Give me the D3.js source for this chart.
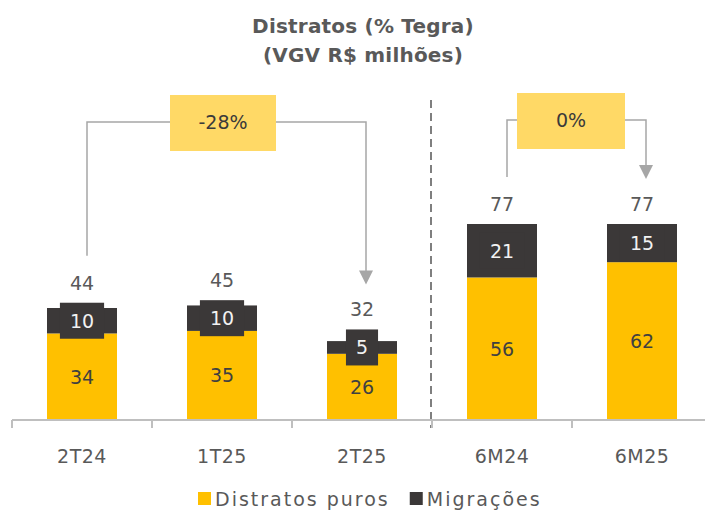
<!DOCTYPE html>
<html>
<head>
<meta charset="utf-8">
<script src="https://cdn.jsdelivr.net/npm/d3@7"></script>
<style>
  body { margin: 0; background: #fff; }
  svg text { font-family: "DejaVu Sans", sans-serif; }
</style>
</head>
<body>
<div class="chart"></div>
<script>
// data
var categories = ['2T24', '1T25', '2T25', '6M24', '6M25'];
var puros = [34, 35, 26, 56, 62];
var migracoes = [10, 10, 5, 21, 15];
var totals = [44, 45, 32, 77, 77];
var seriesNames = ['Distratos puros', 'Migrações'];
var annotations = [
  {from: '2T24', to: '2T25', text: '-28%'},
  {from: '6M24', to: '6M25', text: '0%'}
];

var svgWidth = 705;
var svgHeight = 511;
var yellow = '#FFC000';
var dark = '#3B3838';
var lineGray = '#A6A6A6';
var textGray = '#595959';
var fontSize = 19;

var svg = d3.select(".chart")
  .append("svg")
  .attr("width", svgWidth)
  .attr("height", svgHeight);

var x = d3.scaleBand()
  .domain(categories)
  .range([12, 712])
  .padding(0);

var y = d3.scaleLinear()
  .domain([0, 77])
  .range([420, 224]);

var barW = x.bandwidth() * 0.5;
function cx(c) { return x(c) + x.bandwidth() / 2; }

// title
var title = svg.append("text")
  .attr("x", 363)
  .attr("text-anchor", "middle")
  .attr("font-weight", "bold")
  .attr("font-size", 20)
  .attr("letter-spacing", 0.2)
  .attr("fill", textGray);
title.append("tspan").attr("x", 363).attr("y", 33).text("Distratos (% Tegra)");
title.append("tspan").attr("x", 363).attr("y", 62).text("(VGV R$ milhões)");

// dashed divider
svg.append("line")
  .attr("x1", x('6M24') - 1).attr("x2", x('6M24') - 1)
  .attr("y1", 100).attr("y2", 428)
  .attr("stroke", "#7F7F7F")
  .attr("stroke-width", 2)
  .attr("stroke-dasharray", "8,5");

// stacked data
var rows = categories.map(function(c, i) {
  return {cat: c, puros: puros[i], migracoes: migracoes[i], total: totals[i]};
});
var stack = d3.stack().keys(['puros', 'migracoes'])(rows);
var colors = {puros: yellow, migracoes: dark};

stack.forEach(function(layer) {
  svg.append("g").selectAll("rect")
    .data(layer)
    .join("rect")
    .attr("x", d => cx(d.data.cat) - barW / 2)
    .attr("width", barW)
    .attr("y", d => y(d[1]))
    .attr("height", d => y(d[0]) - y(d[1]))
    .attr("fill", colors[layer.key]);
});

// labels inside yellow
svg.append("g").selectAll("text")
  .data(stack[0])
  .join("text")
  .attr("x", d => cx(d.data.cat))
  .attr("y", d => (y(d[0]) + y(d[1])) / 2 + 7)
  .attr("text-anchor", "middle")
  .attr("font-size", fontSize)
  .attr("fill", "#404040")
  .text(d => d.data.puros);

// labels for dark segment, with a box behind
var boxTops = {};
var darkLabels = svg.append("g");
stack[1].forEach(function(d) {
  var mid = (y(d[0]) + y(d[1])) / 2;
  var t = darkLabels.append("text")
    .attr("x", cx(d.data.cat))
    .attr("y", mid + 7)
    .attr("text-anchor", "middle")
    .attr("font-size", fontSize)
    .attr("fill", "#F2F2F2")
    .text(d.data.migracoes);
  var w = t.node().getComputedTextLength() + 20;
  darkLabels.insert("rect", "text")
    .attr("x", cx(d.data.cat) - w / 2)
    .attr("y", mid - 18)
    .attr("width", w)
    .attr("height", 36)
    .attr("fill", dark);
  boxTops[d.data.cat] = Math.min(mid - 18, y(d[1]));
});

// totals
var totalY = {};
rows.forEach(function(r) {
  totalY[r.cat] = boxTops[r.cat] - 13;
});
svg.append("g").selectAll("text")
  .data(rows)
  .join("text")
  .attr("x", d => cx(d.cat))
  .attr("y", d => totalY[d.cat])
  .attr("text-anchor", "middle")
  .attr("font-size", fontSize)
  .attr("fill", textGray)
  .text(d => d.total);

// x axis: line, ticks at band edges, labels at centres
var axisG = svg.append("g").attr("transform", "translate(0,420)");
axisG.append("line")
  .attr("x1", 12).attr("x2", 705)
  .attr("y1", 0).attr("y2", 0)
  .attr("stroke", "#BFBFBF").attr("stroke-width", 2);
axisG.selectAll(".edge")
  .data(categories)
  .join("line")
  .attr("class", "edge")
  .attr("x1", d => x(d)).attr("x2", d => x(d))
  .attr("y1", 0).attr("y2", 8)
  .attr("stroke", "#BFBFBF").attr("stroke-width", 2);
var xAxis = d3.axisBottom(x).tickSize(0).tickPadding(30);
var labelsG = svg.append("g").attr("transform", "translate(0,420)").call(xAxis);
labelsG.select(".domain").remove();
labelsG.selectAll("text")
  .attr("font-size", fontSize)
  .attr("fill", textGray)
  .attr("letter-spacing", 0.5)
  .style("font-family", '"DejaVu Sans", sans-serif');

// annotations
annotations.forEach(function(a, k) {
  var x1 = cx(a.from) + 5;
  var x2 = cx(a.to) + 4;
  var hy = k === 0 ? 122 : 120;
  var startY = totalY[a.from] - 34;
  var tipY = totalY[a.to] - 32;
  var boxW = k === 0 ? 106 : 108;
  var boxH = 56;
  var mid = k === 0 ? 223 : 571;
  var g = svg.append("g");
  g.append("path")
    .attr("d", `M${x1},${startY}V${hy}H${x2}V${tipY - 12}`)
    .attr("fill", "none")
    .attr("stroke", lineGray)
    .attr("stroke-width", 1.5);
  g.append("path")
    .attr("d", `M${x2 - 7},${tipY - 14}L${x2 + 7},${tipY - 14}L${x2},${tipY}Z`)
    .attr("fill", lineGray);
  g.append("rect")
    .attr("x", mid - boxW / 2)
    .attr("y", hy - 27)
    .attr("width", boxW)
    .attr("height", boxH)
    .attr("fill", "#FFD966");
  g.append("text")
    .attr("x", mid)
    .attr("y", hy + 7)
    .attr("text-anchor", "middle")
    .attr("font-size", fontSize)
    .attr("fill", "#3A3A3A")
    .text(a.text);
});

// legend
var legend = svg.append("g").attr("transform", "translate(198,498)");
var lx = 0;
seriesNames.forEach(function(name, i) {
  legend.append("rect")
    .attr("x", lx).attr("y", -6)
    .attr("width", 13).attr("height", 13)
    .attr("fill", i === 0 ? yellow : dark);
  var t = legend.append("text")
    .attr("x", lx + 17).attr("y", 8)
    .attr("font-size", fontSize)
    .attr("letter-spacing", 2)
    .attr("fill", textGray)
    .text(name);
  lx += 17 + t.node().getComputedTextLength() + 20;
});
</script>
</body>
</html>
